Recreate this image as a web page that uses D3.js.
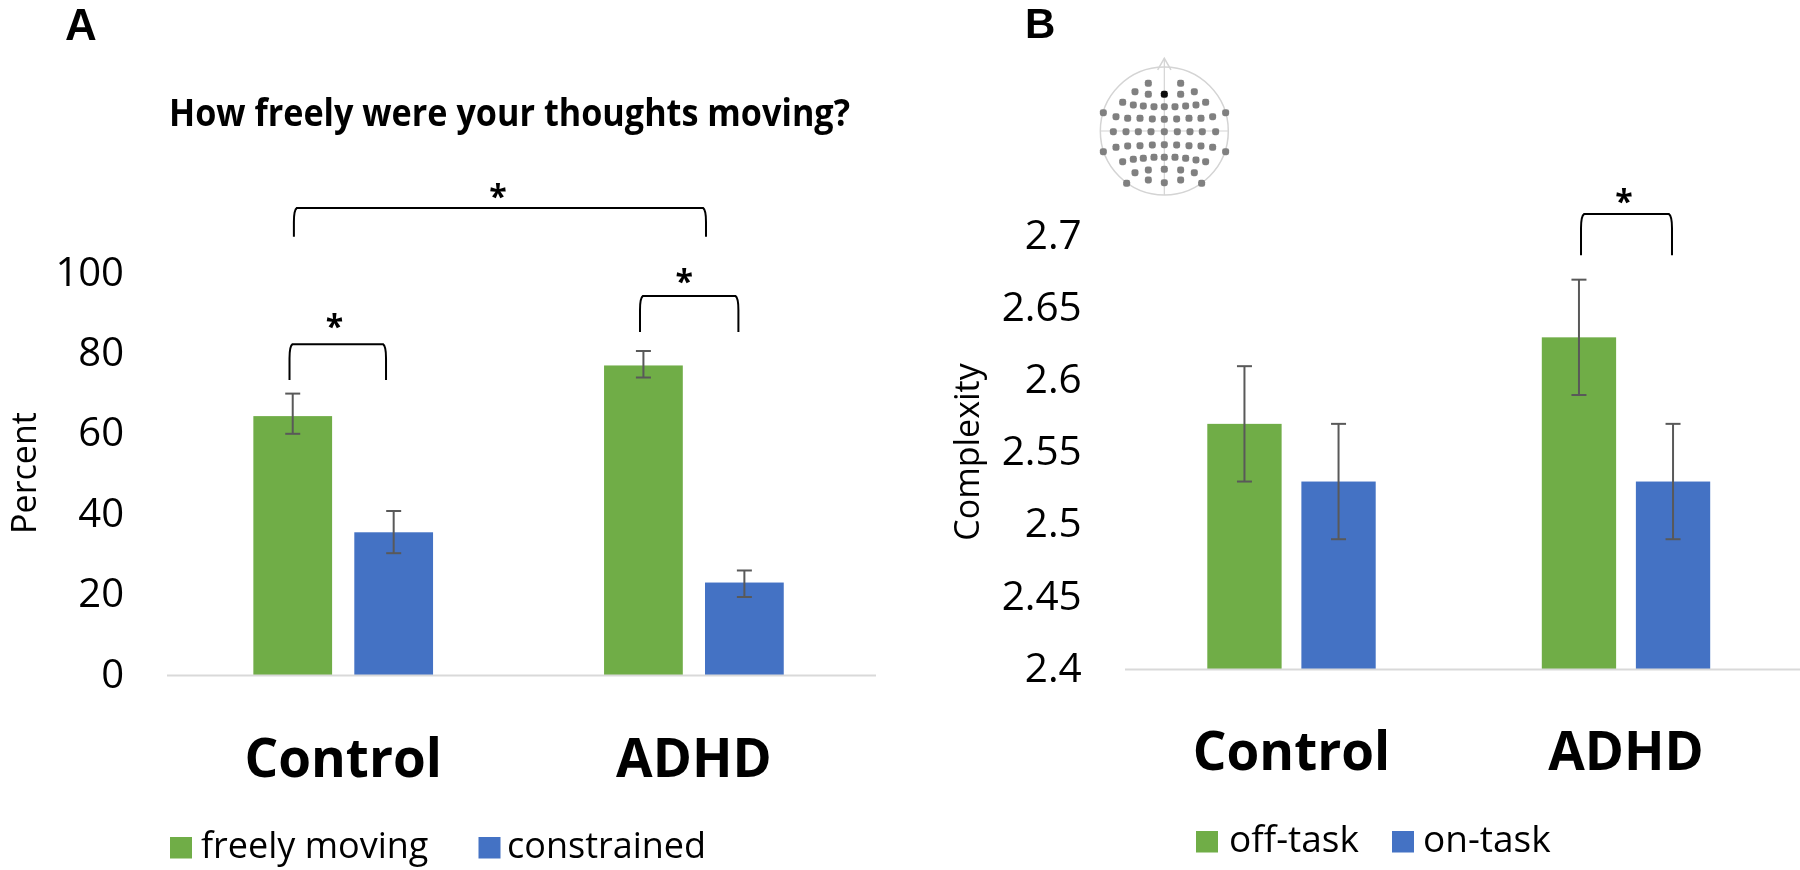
<!DOCTYPE html>
<html><head><meta charset="utf-8">
<script src="https://cdn.jsdelivr.net/npm/d3@7"></script>
<style>
html,body{margin:0;padding:0;background:#fff}
svg{display:block;filter:blur(0.45px)}
text{font-family:"Open Sans",sans-serif;fill:#000}
</style></head><body>
<svg id="c" width="1800" height="870"></svg>
<script>
const categories = ["Control", "ADHD"];

const seriesA = ["freely moving", "constrained"];
const freelyMoving = [64.4, 77];
const constrained = [35.5, 23];
const freelyMovingErr = [[60, 70], [74, 80.6]];
const constrainedErr = [[30.3, 40.8], [19.4, 26]];
const ticksA = [0, 20, 40, 60, 80, 100];

const seriesB = ["off-task", "on-task"];
const offTask = [2.57, 2.63];
const onTask = [2.53, 2.53];
const offTaskErr = [[2.53, 2.61], [2.59, 2.67]];
const onTaskErr = [[2.49, 2.57], [2.49, 2.57]];
const ticksB = [2.4, 2.45, 2.5, 2.55, 2.6, 2.65, 2.7];

// significance brackets: [from, to] along the category axis (0..2), top and foot in value units, star [pos, value]
const bracketsA = [
  {span:[0.3594,1.5345], top:116.2, foot:109, star:[0.9414,120]},
  {span:[0.3469,0.6221], top:82.3, foot:73.4, star:[0.4749,87.6]},
  {span:[1.3463,1.6269], top:94.3, foot:85.3, star:[1.4721,98.8]}
];
const bracketsB = [
  {span:[1.3655,1.6375], top:2.7155, foot:2.687, star:[1.494,2.7266]}
];

// electrode montage
const electrodes = [
 [190,100],[287,100],[150,125],[328,125],[190,133],[287,133],[113,157],[362,157],
 [145,165],[175,168],[207,170],[238,170],[270,170],[302,168],[333,165],
 [55,188],[422,188],[93,200],[383,200],
 [128,205],[165,205],[202,207],[238,208],[275,207],[312,205],[348,205],
 [85,245],[123,245],[160,245],[198,245],[238,245],[277,245],[315,245],[352,245],[392,245],
 [93,292],[128,288],[165,287],[202,285],[238,284],[275,285],[312,287],[348,288],[383,292],
 [55,305],[422,305],
 [113,335],[145,328],[175,325],[207,322],[238,322],[270,322],[302,325],[333,330],[362,335],
 [150,368],[190,360],[238,358],[287,360],[328,368],
 [190,390],[238,398],[287,390],[125,400],[350,400]
];
const activeElectrode = [238,133];

const GREEN = "#70AD47", BLUE = "#4472C4", AXIS = "#D9D9D9", ERR = "#595959";
const svg = d3.select("#c");
svg.append("defs").append("filter").attr("id","soft").append("feGaussianBlur").attr("stdDeviation",0.6);

function panel(o){
  const g = svg.append("g");
  const x0 = d3.scaleBand().domain(categories).range(o.xRange);
  const pos = d3.scaleLinear().domain([0,2]).range(o.xRange);
  const y = d3.scaleLinear().domain(o.yDomain).range(o.yRange);
  const x1 = d3.scaleBand().domain(o.series).range([x0.bandwidth()/2-o.half, x0.bandwidth()/2+o.half]).paddingInner(o.pad);
  const color = d3.scaleOrdinal().domain(o.series).range([GREEN,BLUE]);

  // y axis
  const ax = d3.axisLeft(y).tickValues(o.ticks).tickSize(0).tickPadding(o.tickPad).tickFormat(d=>String(d));
  const ag = g.append("g").attr("transform",`translate(${o.xRange[0]},0)`).call(ax);
  ag.select(".domain").remove();
  ag.selectAll("text").attr("font-size",o.tickFont).attr("font-family",'"Open Sans"').attr("fill","#000").attr("dy",o.tickDy);

  // bars
  const rows = categories.flatMap((c,i)=>o.series.map((s,j)=>({c,s,v:o.values[j][i],e:o.errs[j][i]})));
  g.selectAll("rect.bar").data(rows).join("rect").attr("class","bar")
    .attr("x",d=>x0(d.c)+x1(d.s)).attr("width",x1.bandwidth())
    .attr("y",d=>y(d.v)).attr("height",d=>y(o.yDomain[0])-y(d.v))
    .attr("fill",d=>color(d.s));

  // baseline
  g.append("line").attr("x1",o.baseX[0]).attr("x2",o.baseX[1])
    .attr("y1",y(o.yDomain[0])+0.5).attr("y2",y(o.yDomain[0])+0.5)
    .attr("stroke",AXIS).attr("stroke-width",2);

  // error bars
  const eb = g.selectAll("g.err").data(rows).join("g").attr("class","err")
    .attr("transform",d=>`translate(${x0(d.c)+x1(d.s)+x1.bandwidth()/2},0)`)
    .attr("stroke",ERR).attr("stroke-width",2);
  eb.append("line").attr("y1",d=>y(d.e[0])).attr("y2",d=>y(d.e[1]));
  eb.append("line").attr("x1",-7.5).attr("x2",7.5).attr("y1",d=>y(d.e[0])).attr("y2",d=>y(d.e[0]));
  eb.append("line").attr("x1",-7.5).attr("x2",7.5).attr("y1",d=>y(d.e[1])).attr("y2",d=>y(d.e[1]));

  // category labels
  g.selectAll("text.cat").data(categories).join("text").attr("class","cat")
    .attr("x",d=>x0(d)+x0.bandwidth()/2).attr("y",o.catY)
    .attr("text-anchor","middle").attr("font-size",53).attr("font-weight",700).text(d=>d);

  // brackets
  o.brackets.forEach(b=>{
    const a = pos(b.span[0]), z = pos(b.span[1]), t = y(b.top), f = y(b.foot);
    g.append("path").attr("fill","none").attr("stroke","#000").attr("stroke-width",2)
      .attr("d",`M${a},${f}L${a},${t+14}Q${a},${t+2} ${a+3},${t}L${z-3},${t}Q${z},${t+2} ${z},${t+14}L${z},${f}`);
    g.append("text").attr("x",pos(b.star[0])).attr("y",y(b.star[1])+15)
      .attr("text-anchor","middle").attr("font-size",32).attr("font-weight",700).text("*");
  });

  // y title
  g.append("text").attr("transform",`translate(${o.yTitle.x},${o.yTitle.y}) rotate(-90)`)
    .attr("text-anchor","middle").attr("font-size",o.yTitle.size).attr("font-weight",500).text(o.yTitle.text);

  // legend
  o.series.forEach((s,j)=>{
    const l = o.legend[j];
    g.append("rect").attr("x",l.sx).attr("y",o.legendY-21).attr("width",22).attr("height",21.5).attr("fill",color(s));
    g.append("text").attr("x",l.tx).attr("y",o.legendY).attr("font-size",o.legendFont).attr("fill","#262626").text(s);
  });
}

panel({xRange:[167.85,869.25], baseX:[167,876], yDomain:[0,100], yRange:[675,273], series:seriesA,
  values:[freelyMoving,constrained], errs:[freelyMovingErr,constrainedErr], ticks:ticksA,
  tickPad:43.85, tickFont:40, tickDy:"0.3em", half:89.85, pad:0.22, catY:777, brackets:bracketsA,
  yTitle:{x:36,y:473,size:34,text:"Percent"},
  legend:[{sx:170,tx:201},{sx:478.5,tx:507}], legendY:858, legendFont:36});

panel({xRange:[1124.25,1793.25], baseX:[1125,1800], yDomain:[2.4,2.7], yRange:[669,236.4], series:seriesB,
  values:[offTask,onTask], errs:[offTaskErr,onTaskErr], ticks:ticksB,
  tickPad:42.5, tickFont:40.5, tickDy:"0.3em", half:84.2, pad:0.21, catY:770, brackets:bracketsB,
  yTitle:{x:979,y:452,size:34,text:"Complexity"},
  legend:[{sx:1196,tx:1229},{sx:1392,tx:1423}], legendY:852, legendFont:37});

// panel letters and title
svg.append("text").attr("x",65).attr("y",40).attr("font-size",44).attr("font-weight",700)
  .style("font-family",'"Liberation Sans"').text("A");
svg.append("text").attr("x",1025).attr("y",38).attr("font-size",42).attr("font-weight",700)
  .style("font-family",'"Liberation Sans"').text("B");
svg.append("text").attr("x",169).attr("y",126).attr("font-size",37).attr("font-weight",700)
  .attr("textLength",681).attr("lengthAdjust","spacingAndGlyphs").text("How freely were your thoughts moving?");

// head inset
const hx = d3.scaleLinear().domain([45,430]).range([1100,1228.3]);
const hy = d3.scaleLinear().domain([55,435]).range([68.3,195]);
const head = svg.append("g").attr("filter","url(#soft)");
const cx = hx(238), cy = hy(243), rx = hx(430)-cx;
head.append("path").attr("fill","none").attr("stroke","#d4d4d4").attr("stroke-width",1.5)
  .attr("d",`M${hx(218)},${hy(60)}L${hx(238)},${hy(25)}L${hx(258)},${hy(60)}`);
head.append("circle").attr("cx",cx).attr("cy",cy).attr("r",rx).attr("fill","none").attr("stroke","#d4d4d4").attr("stroke-width",1.5);
head.append("line").attr("x1",cx).attr("x2",cx).attr("y1",hy(25)).attr("y2",hy(435)).attr("stroke","#d4d4d4").attr("stroke-width",1.2);
head.append("line").attr("x1",hx(45)).attr("x2",hx(430)).attr("y1",cy).attr("y2",cy).attr("stroke","#d4d4d4").attr("stroke-width",1.2);
head.selectAll("rect.el").data(electrodes).join("rect").attr("class","el")
  .attr("x",d=>hx(d[0])-3.5).attr("y",d=>hy(d[1])-3.5).attr("width",7).attr("height",7).attr("rx",2.4)
  .attr("fill","#808080");
head.append("rect").attr("x",hx(activeElectrode[0])-3.5).attr("y",hy(activeElectrode[1])-3.5)
  .attr("width",7).attr("height",7).attr("rx",2.4).attr("fill","#111");
</script>
</body></html>
